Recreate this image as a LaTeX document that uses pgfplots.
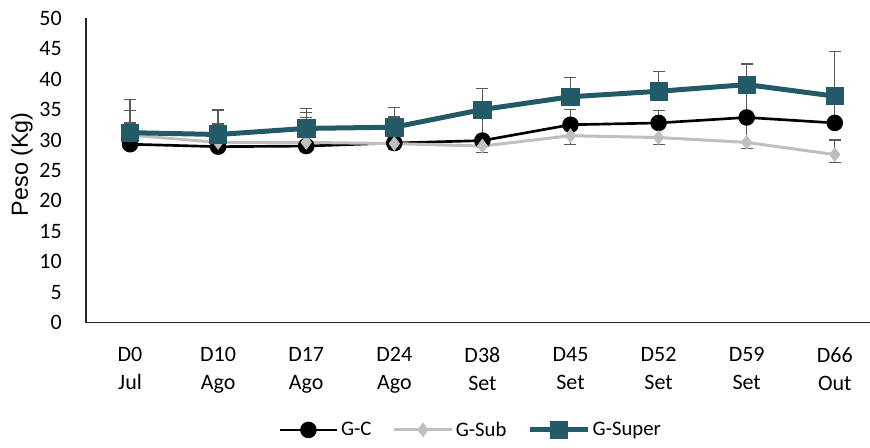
\documentclass[border=0pt]{standalone}
\usepackage{pgfplots}
\pgfplotsset{compat=1.18}
\usepackage{pgfplotstable}
\usepackage{fontspec}
\setmainfont{Carlito}
\newfontfamily\arialfont{Liberation Sans}

\definecolor{supercol}{RGB}{34,90,104}
\definecolor{subcol}{RGB}{191,191,191}
\definecolor{errcol}{RGB}{89,89,89}

% x  mean  err+  err-
\pgfplotstableread{
x y ep em
0 29.3 3.5 0
1 28.9 3.8 0
2 29.0 4.7 0
3 29.5 4.3 0
4 29.9 5.0 0
5 32.5 2.5 0
6 32.8 2.0 0
7 33.7 4.0 0
8 32.8 3.0 0
}\gc

\pgfplotstableread{
x y ep em
0 30.8 4.0 1.0
1 29.6 3.0 1.0
2 29.6 4.9 1.0
3 29.4 4.0 1.0
4 29.0 1.0 1.1
5 30.7 1.5 1.4
6 30.4 2.0 1.1
7 29.6 3.5 1.0
8 27.6 2.4 1.3
}\gsub

\pgfplotstableread{
x y ep em
0 31.2 5.5 0
1 30.9 4.0 0
2 31.9 3.3 0
3 32.1 3.2 0
4 35.0 3.5 0
5 37.1 3.2 0
6 38.0 3.3 0
7 39.1 3.4 0
8 37.2 7.3 0
}\gsuper

\begin{document}
\begin{tikzpicture}
\begin{axis}[
  at={(64.5pt,94.1pt)}, anchor=south west,
  scale only axis,
  width=588pt, height=228.2pt,
  xmin=-0.5, xmax=8.4,
  ymin=0, ymax=50,
  ytick={0,5,...,50},
  xtick={0,...,8},
  xticklabels={{D0\\Jul},{D10\\Ago},{D17\\Ago},{D24\\Ago},{D38\\Set},{D45\\Set},{D52\\Set},{D59\\Set},{D66\\Out}},
  axis x line=bottom, axis y line=left,
  axis line style={-, line width=0.9pt, color=black!85},
  major tick length=0pt,
  /pgf/number format/assume math mode=true,
  tick label style={font=\fontsize{16.5}{21}\selectfont},
  yticklabel style={anchor=east, inner sep=0pt, xshift=-18pt},
  xticklabel style={align=center, anchor=north, inner sep=0pt, yshift=-18.5pt},
  ylabel={Peso (Kg)},
  ylabel style={at={(axis description cs:-0.074,0.52)}, anchor=base, rotate=0,
    font=\arialfont\fontsize{17.5}{20}\selectfont},
  legend style={at={(axis description cs:0.491,-0.353)}, anchor=center,
    draw=none, fill=none, legend columns=3,
    font=\fontsize{15.5}{18}\selectfont,
    /tikz/every even column/.append style={column sep=14pt},
    inner sep=0pt},
  legend image code/.code={\draw[mark repeat=2,mark phase=2] plot coordinates {(0pt,0pt)(21.5pt,0pt)(43pt,0pt)};},
  clip=false,
]
\addplot[black, line width=2pt, mark=*, mark size=5.2pt,
  error bars/.cd, y dir=plus, y explicit,
  error bar style={line width=1pt, color=errcol},
  error mark options={rotate=90, mark size=4.5pt, line width=1pt, color=errcol}]
  table[x=x, y=y, y error plus=ep, y error minus=em] {\gc};
\addlegendentry{G-C}

\addplot[subcol, line width=2.25pt, mark=diamond*, mark size=5.2pt,
  mark options={fill=subcol, draw=subcol, line width=0.5pt},
  error bars/.cd, y dir=both, y explicit,
  error bar style={line width=1pt, color=errcol},
  error mark options={rotate=90, mark size=4.5pt, line width=1pt, color=errcol}]
  table[x=x, y=y, y error plus=ep, y error minus=em] {\gsub};
\addlegendentry{G-Sub}

\addplot[supercol, line width=3.75pt, mark=square*, mark size=6.5pt,
  mark options={line width=0.5pt, line join=round},
  error bars/.cd, y dir=plus, y explicit,
  error bar style={line width=1pt, color=errcol},
  error mark options={rotate=90, mark size=4.5pt, line width=1pt, color=errcol}]
  table[x=x, y=y, y error plus=ep, y error minus=em] {\gsuper};
\addlegendentry{G-Super}
\end{axis}
\pgfresetboundingbox
\path (0,0) rectangle (652.5pt,336pt);
\end{tikzpicture}
\end{document}
